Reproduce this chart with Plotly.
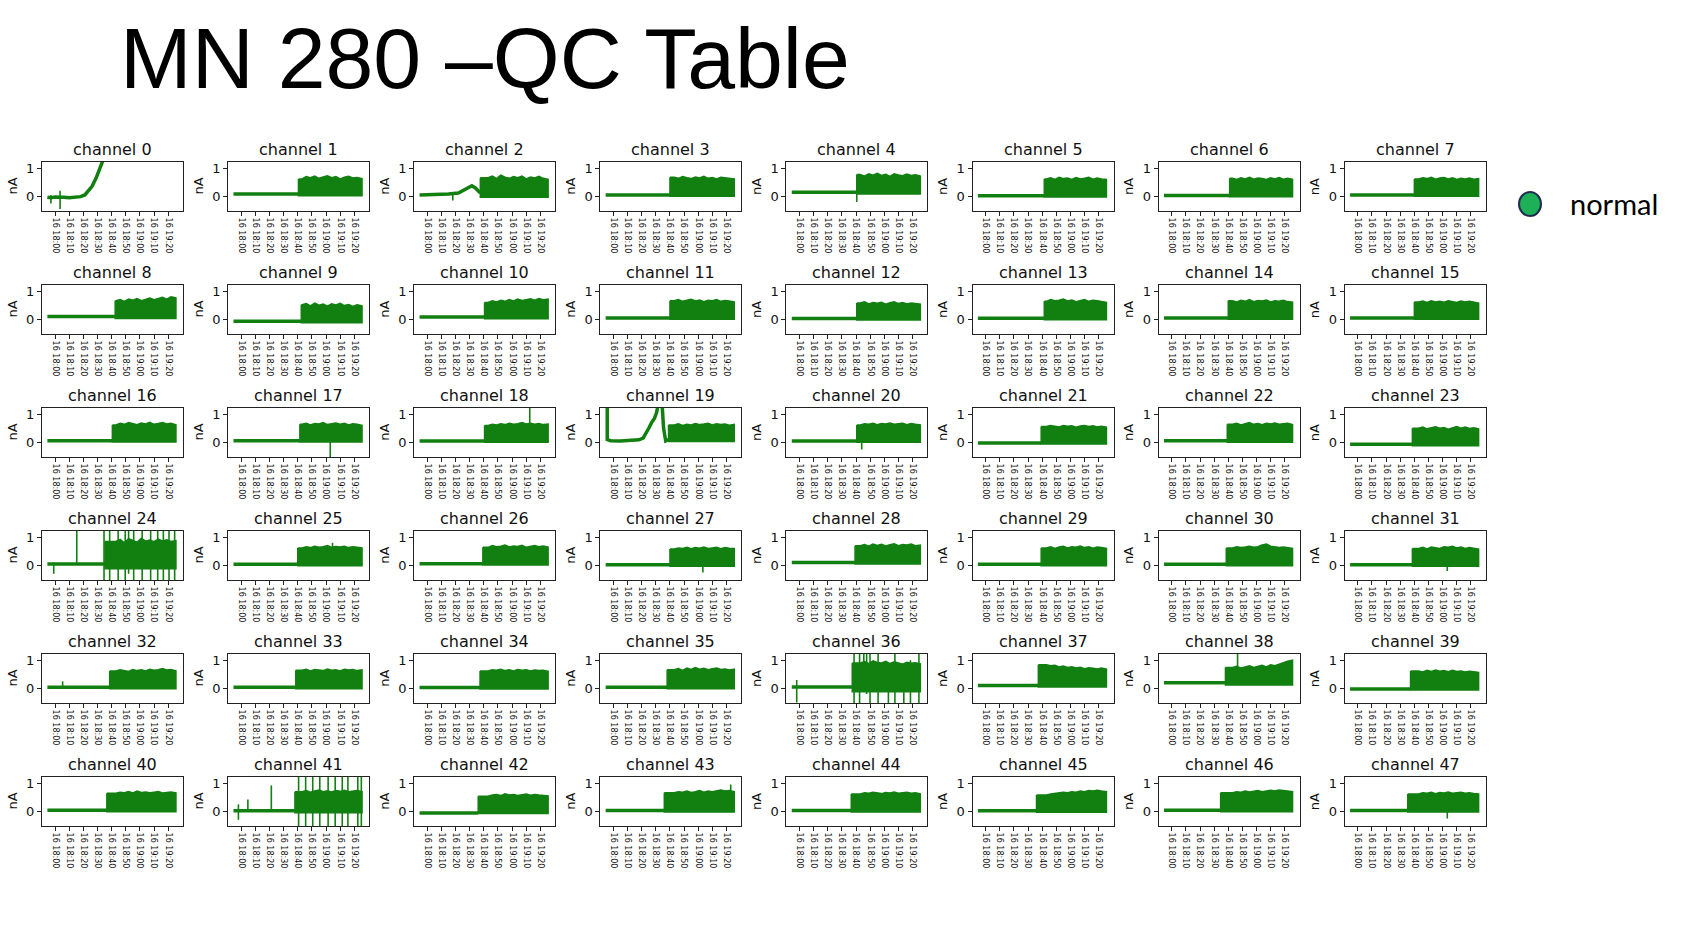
import plotly.graph_objects as go
import pandas as pd

W, H = 1694, 952
GREEN = '#118011'
T0 = pd.Timestamp('2021-06-16 18:00:00')

# ---------------- data (minutes after 18:00, values in nA) ----------------
CHANNELS = [f'channel {i}' for i in range(48)]
TICK_MIN = [0, 10, 20, 30, 40, 50, 60, 70, 80]
TICK_LABELS = ['16 18:00', '16 18:10', '16 18:20', '16 18:30', '16 18:40',
               '16 18:50', '16 19:00', '16 19:10', '16 19:20']
X_RANGE_MIN = [-9.3, 90.5]
Y_RANGE = [-0.52, 1.22]
Y_TICKS = [0, 1]
DATA_START, DATA_END = -5.5, 85.5

base_level = [-0.03, 0.08, 0.05, 0.05, 0.15, 0.02, 0.03, 0.05,
              0.10, -0.07, 0.08, 0.05, 0.03, 0.04, 0.05, 0.05,
              0.06, 0.06, 0.05, 0.08, 0.05, -0.02, 0.06, -0.07,
              0.05, 0.04, 0.06, 0.02, 0.10, 0.04, 0.04, 0.02,
              0.04, 0.04, 0.03, 0.04, 0.05, 0.10, 0.20, -0.02,
              0.04, 0.02, -0.06, 0.03, 0.03, 0.02, 0.04, 0.03]

band_start = [None, 40.5, 37.5, 40, 40.5, 41.5, 41, 40,
              42.5, 42.5, 40.5, 40, 40.5, 41.5, 40, 40,
              40.5, 41.5, 40.5, 39, 40.5, 39.3, 39.3, 38.6,
              35.3, 40, 39.3, 40, 39.3, 39.3, 38.6, 38.6,
              38.6, 38.6, 37.3, 38, 37.3, 37.3, 38, 37.3,
              36.6, 38, 36, 36, 36.6, 36, 34.6, 35.3]

band_bot = [None, 0.02, -0.03, 0.0, 0.08, -0.02, -0.01, 0.0,
            0.03, -0.12, 0.02, 0.0, -0.02, -0.01, 0.0, 0.0,
            0.01, 0.01, 0.0, 0.03, 0.0, -0.06, 0.0, -0.12,
            -0.12, -0.01, 0.01, -0.03, 0.05, -0.01, -0.01, -0.03,
            -0.01, -0.01, -0.02, -0.01, -0.12, 0.05, 0.12, -0.06,
            -0.01, -0.05, -0.08, -0.02, -0.02, -0.03, -0.01, -0.02]

BAND_KNOTS = [43, 46, 49, 52, 55, 58, 61, 64, 67, 70, 73, 76, 79, 82, 85.5]
band_top = [
    None,
    [0.62, 0.70, 0.66, 0.72, 0.64, 0.69, 0.73, 0.66, 0.70, 0.62, 0.68, 0.71, 0.65, 0.67, 0.63],
    [0.66, 0.72, 0.63, 0.75, 0.68, 0.64, 0.70, 0.66, 0.72, 0.62, 0.69, 0.65, 0.71, 0.64, 0.60],
    [0.68, 0.64, 0.70, 0.66, 0.63, 0.69, 0.65, 0.71, 0.64, 0.67, 0.62, 0.68, 0.66, 0.64, 0.62],
    [0.78, 0.72, 0.80, 0.75, 0.82, 0.74, 0.78, 0.71, 0.80, 0.76, 0.73, 0.79, 0.74, 0.77, 0.72],
    [0.62, 0.66, 0.60, 0.68, 0.63, 0.65, 0.60, 0.67, 0.62, 0.64, 0.68, 0.61, 0.65, 0.62, 0.60],
    [0.64, 0.60, 0.66, 0.62, 0.68, 0.61, 0.65, 0.63, 0.60, 0.66, 0.62, 0.67, 0.61, 0.64, 0.60],
    [0.62, 0.66, 0.63, 0.68, 0.61, 0.65, 0.67, 0.62, 0.66, 0.60, 0.64, 0.62, 0.65, 0.61, 0.63],
    [0.66, 0.70, 0.64, 0.72, 0.68, 0.74, 0.66, 0.71, 0.76, 0.70, 0.74, 0.78, 0.72, 0.80, 0.76],
    [0.52, 0.56, 0.48, 0.58, 0.50, 0.54, 0.47, 0.55, 0.51, 0.57, 0.49, 0.53, 0.46, 0.52, 0.48],
    [0.60, 0.66, 0.62, 0.68, 0.64, 0.70, 0.65, 0.72, 0.67, 0.70, 0.73, 0.68, 0.74, 0.70, 0.72],
    [0.66, 0.70, 0.64, 0.68, 0.71, 0.65, 0.69, 0.63, 0.68, 0.66, 0.70, 0.64, 0.67, 0.65, 0.62],
    [0.58, 0.62, 0.55, 0.60, 0.57, 0.61, 0.54, 0.59, 0.62, 0.56, 0.60, 0.55, 0.58, 0.56, 0.54],
    [0.64, 0.70, 0.66, 0.68, 0.72, 0.65, 0.69, 0.63, 0.67, 0.70, 0.64, 0.68, 0.66, 0.62, 0.60],
    [0.66, 0.62, 0.68, 0.64, 0.70, 0.63, 0.67, 0.65, 0.69, 0.62, 0.66, 0.64, 0.68, 0.63, 0.61],
    [0.62, 0.65, 0.60, 0.66, 0.62, 0.64, 0.61, 0.66, 0.63, 0.60, 0.65, 0.62, 0.64, 0.60, 0.58],
    [0.62, 0.68, 0.64, 0.70, 0.66, 0.63, 0.69, 0.65, 0.71, 0.64, 0.67, 0.70, 0.65, 0.68, 0.62],
    [0.64, 0.68, 0.62, 0.67, 0.65, 0.70, 0.63, 0.66, 0.69, 0.64, 0.68, 0.62, 0.66, 0.64, 0.60],
    [0.60, 0.64, 0.62, 0.66, 0.63, 0.68, 0.64, 0.66, 0.70, 0.65, 0.68, 0.64, 0.67, 0.63, 0.65],
    [0.62, 0.66, 0.60, 0.64, 0.62, 0.67, 0.63, 0.65, 0.68, 0.62, 0.66, 0.63, 0.65, 0.61, 0.64],
    [0.62, 0.66, 0.64, 0.68, 0.63, 0.67, 0.65, 0.69, 0.64, 0.66, 0.68, 0.63, 0.67, 0.64, 0.62],
    [0.56, 0.60, 0.58, 0.55, 0.60, 0.57, 0.59, 0.54, 0.58, 0.60, 0.56, 0.59, 0.55, 0.57, 0.54],
    [0.64, 0.68, 0.62, 0.66, 0.70, 0.64, 0.67, 0.63, 0.68, 0.65, 0.69, 0.64, 0.66, 0.68, 0.63],
    [0.50, 0.54, 0.48, 0.52, 0.55, 0.50, 0.53, 0.47, 0.52, 0.56, 0.50, 0.54, 0.49, 0.52, 0.48],
    [0.85, 0.92, 0.80, 0.95, 0.88, 0.82, 0.96, 0.86, 0.90, 0.84, 0.93, 0.87, 0.91, 0.85, 0.88],
    [0.62, 0.66, 0.63, 0.68, 0.64, 0.66, 0.70, 0.64, 0.67, 0.65, 0.68, 0.63, 0.66, 0.64, 0.62],
    [0.64, 0.70, 0.66, 0.68, 0.72, 0.65, 0.69, 0.67, 0.71, 0.64, 0.68, 0.70, 0.66, 0.69, 0.65],
    [0.58, 0.62, 0.60, 0.64, 0.59, 0.63, 0.61, 0.65, 0.60, 0.62, 0.64, 0.59, 0.63, 0.61, 0.60],
    [0.70, 0.74, 0.68, 0.76, 0.71, 0.75, 0.69, 0.73, 0.77, 0.70, 0.74, 0.72, 0.76, 0.70, 0.72],
    [0.62, 0.66, 0.60, 0.65, 0.68, 0.62, 0.66, 0.64, 0.69, 0.63, 0.66, 0.61, 0.65, 0.63, 0.60],
    [0.62, 0.66, 0.63, 0.65, 0.68, 0.64, 0.66, 0.72, 0.76, 0.68, 0.66, 0.63, 0.65, 0.62, 0.60],
    [0.60, 0.64, 0.58, 0.65, 0.62, 0.60, 0.66, 0.64, 0.68, 0.62, 0.65, 0.60, 0.63, 0.61, 0.58],
    [0.62, 0.66, 0.64, 0.60, 0.67, 0.63, 0.66, 0.62, 0.68, 0.64, 0.66, 0.70, 0.65, 0.67, 0.62],
    [0.64, 0.68, 0.62, 0.67, 0.65, 0.63, 0.69, 0.64, 0.66, 0.62, 0.68, 0.65, 0.67, 0.63, 0.66],
    [0.62, 0.66, 0.64, 0.68, 0.63, 0.66, 0.62, 0.67, 0.64, 0.66, 0.62, 0.65, 0.63, 0.64, 0.60],
    [0.66, 0.70, 0.64, 0.72, 0.67, 0.74, 0.68, 0.71, 0.66, 0.70, 0.72, 0.67, 0.69, 0.65, 0.68],
    [0.90, 0.95, 0.88, 0.98, 0.92, 0.90, 0.96, 0.88, 0.94, 0.90, 0.86, 0.93, 0.89, 0.91, 0.87],
    [0.84, 0.80, 0.82, 0.76, 0.79, 0.74, 0.77, 0.72, 0.75, 0.70, 0.73, 0.71, 0.69, 0.72, 0.68],
    [0.74, 0.78, 0.72, 0.76, 0.80, 0.74, 0.78, 0.82, 0.76, 0.84, 0.80, 0.86, 0.90, 0.96, 1.00],
    [0.62, 0.58, 0.64, 0.60, 0.65, 0.61, 0.63, 0.59, 0.64, 0.60, 0.62, 0.58, 0.61, 0.59, 0.57],
    [0.64, 0.68, 0.66, 0.70, 0.65, 0.72, 0.67, 0.69, 0.66, 0.68, 0.70, 0.65, 0.67, 0.69, 0.66],
    [0.70, 0.74, 0.68, 0.72, 0.76, 0.70, 0.73, 0.69, 0.74, 0.71, 0.75, 0.70, 0.72, 0.74, 0.70],
    [0.54, 0.58, 0.60, 0.56, 0.62, 0.58, 0.60, 0.56, 0.59, 0.62, 0.57, 0.60, 0.58, 0.56, 0.55],
    [0.66, 0.70, 0.68, 0.72, 0.67, 0.70, 0.74, 0.68, 0.72, 0.70, 0.74, 0.76, 0.72, 0.74, 0.70],
    [0.62, 0.66, 0.64, 0.68, 0.66, 0.63, 0.67, 0.65, 0.69, 0.64, 0.66, 0.68, 0.64, 0.66, 0.62],
    [0.58, 0.62, 0.64, 0.66, 0.68, 0.66, 0.70, 0.68, 0.72, 0.70, 0.74, 0.72, 0.75, 0.72, 0.70],
    [0.66, 0.70, 0.68, 0.72, 0.69, 0.71, 0.74, 0.70, 0.73, 0.75, 0.72, 0.76, 0.74, 0.72, 0.70],
    [0.62, 0.66, 0.64, 0.68, 0.63, 0.67, 0.65, 0.69, 0.64, 0.66, 0.68, 0.64, 0.66, 0.63, 0.62],
]

# channels whose pre-step trace is not flat
custom_ch = [0, 2, 19]
custom_t = [
    [-5.5, -3, 0, 3, 6, 10, 14, 18, 21, 23.5, 26, 29, 31.5, 34],
    [-5.5, 5, 15, 22, 26, 29, 31.5, 34, 36, 37.5],
    [-5.5, -4.4, -4.4, -2, 5, 12, 18, 21, 23, 25, 27, 29, 30.5, 31.5, 34.5, 35.5, 37, 39],
]
custom_y = [
    [-0.03, -0.05, -0.02, -0.04, -0.03, -0.05, -0.02, -0.01, 0.05, 0.2, 0.35, 0.65, 0.95, 1.3],
    [0.05, 0.06, 0.08, 0.12, 0.22, 0.32, 0.38, 0.30, 0.20, 0.12],
    [1.3, 1.3, 0.10, 0.06, 0.05, 0.07, 0.09, 0.15, 0.30, 0.50, 0.70, 0.85, 1.05, 1.3, 1.3, 0.5, 0.05, 0.10],
]

# vertical spikes: channel, time, low, high
spike_ch = [0, 0, 2, 4, 17, 18, 20,
            24, 24, 24, 24, 24, 24, 24, 24, 24, 24, 24, 24, 24, 24,
            25, 27, 31, 32,
            36, 36, 36, 36, 36, 36, 36, 36, 36, 36, 36, 36,
            38, 41, 41, 41,
            41, 41, 41, 41, 41, 41, 41, 41, 41, 41,
            43, 47]
spike_t = [3.5, -3, 18, 40.5, 63, 72.5, 44,
           -1, 15.3, 34.6, 38.6, 44.6, 49.6, 55.6, 61.6, 67.6, 72.6, 76.6, 80.6, 84.6, 52,
           64.6, 63.3, 63.3, 5.3,
           -2, 38.6, 42.5, 45.5, 49.9, 55.6, 62.9, 67.5, 73.8, 78.5, 84.5, 47.5,
           46.6, -2, 4.7, 21.3,
           40.6, 45.6, 50.6, 55.6, 61.5, 66.5, 71.5, 75.5, 82.5, 85,
           83, 63.3]
spike_lo = [-0.45, -0.25, -0.15, -0.2, -0.55, 0.0, -0.25,
            -0.3, 0.05, -0.6, -0.6, -0.6, -0.6, -0.6, -0.6, -0.6, -0.6, -0.6, -0.6, -0.6, -0.3,
            0.3, -0.25, -0.2, 0.0,
            -0.5, -0.6, -0.6, 0.0, -0.6, -0.6, -0.6, -0.6, -0.6, -0.6, -0.6, -0.2,
            0.5, -0.3, 0.0, 0.0,
            -0.6, -0.6, -0.6, -0.6, -0.6, -0.6, -0.6, -0.6, -0.6, -0.6,
            0.6, -0.25]
spike_hi = [0.20, 0.05, 0.1, 0.15, 0.05, 1.3, 0.05,
            0.10, 1.3, 1.3, 1.3, 1.3, 1.3, 1.3, 1.3, 1.3, 1.3, 1.3, 1.3, 1.3, 1.3,
            0.80, 0.10, 0.10, 0.25,
            0.30, 1.3, 1.3, 1.3, 1.3, 1.3, 0.9, 1.3, 0.9, 1.0, 1.3, 1.3,
            1.3, 0.25, 0.42, 0.92,
            1.3, 1.3, 1.3, 1.3, 1.3, 1.3, 1.3, 1.3, 1.3, 1.3,
            0.95, 0.10]


def tm(m):
    return T0 + pd.Timedelta(minutes=m)


fig = go.Figure()
layout = {}
annotations = []

for i, name in enumerate(CHANNELS):
    r, c = divmod(i, 8)
    sfx = '' if i == 0 else str(i + 1)
    xref, yref = 'x' + sfx, 'y' + sfx
    left = 42 + 186.1 * c
    right = left + 141
    top = 162 + 123 * r
    bottom = top + 49

    # pre-step trace
    if i in custom_ch:
        k = custom_ch.index(i)
        bx = [tm(v) for v in custom_t[k]]
        by = custom_y[k]
    else:
        bx = [tm(DATA_START), tm(band_start[i])]
        by = [base_level[i], base_level[i]]
    fig.add_trace(go.Scatter(x=bx, y=by, mode='lines', xaxis=xref, yaxis=yref,
                             line=dict(color=GREEN, width=3.5), hoverinfo='skip'))

    # noisy band after the step
    if band_start[i] is not None:
        tops = band_top[i]
        kx = [band_start[i]] + BAND_KNOTS
        ky = [tops[0]] + tops
        px = kx + kx[::-1] + [kx[0]]
        py = ky + [band_bot[i]] * len(kx) + [ky[0]]
        fig.add_trace(go.Scatter(x=[tm(v) for v in px], y=py, mode='lines',
                                 fill='toself', fillcolor=GREEN,
                                 xaxis=xref, yaxis=yref,
                                 line=dict(color=GREEN, width=1.5), hoverinfo='skip'))

    # spikes
    sx, sy = [], []
    for ch, t, lo, hi in zip(spike_ch, spike_t, spike_lo, spike_hi):
        if ch == i:
            sx += [tm(t), tm(t), None]
            sy += [lo, hi, None]
    if sx:
        fig.add_trace(go.Scatter(x=sx, y=sy, mode='lines', xaxis=xref, yaxis=yref,
                                 line=dict(color=GREEN, width=1.6), hoverinfo='skip'))

    layout['xaxis' + sfx] = dict(
        domain=[left / W, right / W], anchor=yref, type='date',
        range=[tm(X_RANGE_MIN[0]), tm(X_RANGE_MIN[1])],
        tickmode='array', tickvals=[tm(v) for v in TICK_MIN], ticktext=TICK_LABELS,
        tickangle=90, tickfont=dict(size=8, family='DejaVu Sans', color='#111'),
        ticks='outside', ticklen=4, tickwidth=1, tickcolor='#222',
        showline=True, linecolor='#222', linewidth=1, mirror=True,
        showgrid=False, zeroline=False, fixedrange=True)
    layout['yaxis' + sfx] = dict(
        domain=[1 - bottom / H, 1 - top / H], anchor=xref, range=Y_RANGE,
        tickmode='array', tickvals=Y_TICKS, ticktext=[str(v) for v in Y_TICKS],
        tickfont=dict(size=13, family='DejaVu Sans', color='#111'),
        ticks='outside', ticklen=4, tickwidth=1, tickcolor='#222',
        showline=True, linecolor='#222', linewidth=1, mirror=True,
        showgrid=False, zeroline=False, fixedrange=True)

    annotations.append(dict(text=name, x=(left + right) / 2 / W, y=1 - 149 / H - 123 * r / H,
                            xref='paper', yref='paper', xanchor='center', yanchor='middle',
                            showarrow=False, font=dict(size=16, family='DejaVu Sans', color='#111')))
    annotations.append(dict(text='nA', x=(left - 30) / W, y=1 - (top + 24.5) / H,
                            xref='paper', yref='paper', xanchor='center', yanchor='middle',
                            textangle=-90, showarrow=False,
                            font=dict(size=13, family='DejaVu Sans', color='#111')))

annotations.append(dict(text='MN 280 –QC Table', x=118 / W, y=1 - 58 / H, xref='paper', yref='paper',
                        xanchor='left', yanchor='middle', showarrow=False,
                        font=dict(size=86, family='Liberation Sans, Arial', color='#000')))
annotations.append(dict(text='normal', x=1568 / W, y=1 - 203 / H, xref='paper', yref='paper',
                        xanchor='left', yanchor='middle', showarrow=False,
                        font=dict(size=29, family='Lato, Open Sans', color='#000')))

layout.update(dict(
    width=W, height=H, margin=dict(l=0, r=0, t=0, b=0),
    paper_bgcolor='white', plot_bgcolor='white', showlegend=False,
    annotations=annotations,
    shapes=[dict(type='circle', xref='paper', yref='paper',
                 x0=1519 / W, x1=1541 / W, y0=1 - 216 / H, y1=1 - 192 / H,
                 fillcolor='#1DB056', line=dict(color='#1F2D4E', width=2))],
))
fig.update_layout(**layout)
fig.write_html('out.html')
